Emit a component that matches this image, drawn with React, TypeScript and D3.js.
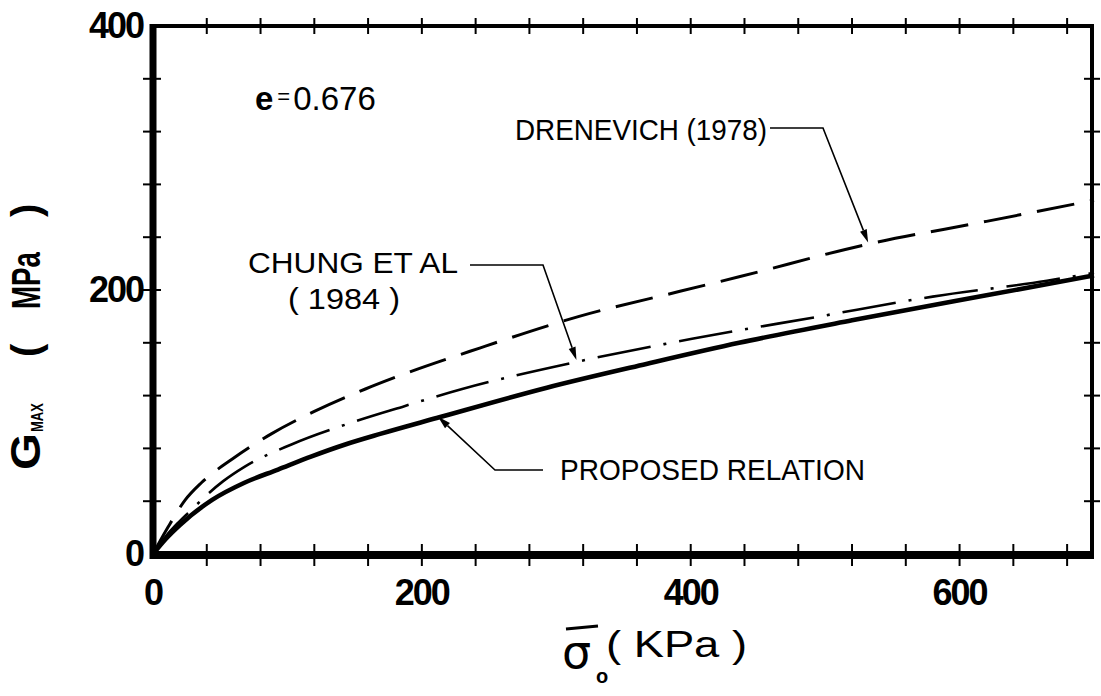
import React from "react";
import * as d3 from "d3";

// Confining pressure (kPa) vs. maximum shear modulus (MPa), e = 0.676
const proposedSigma = [0, 10, 20, 44, 68, 93, 118, 143, 169, 211, 293, 367, 436, 520, 620, 700];
const proposedG = [0, 12, 22, 41, 54, 64, 74, 83, 91, 103, 126, 144, 160, 177, 196, 211];

const chungSigma = [0, 10, 19, 26, 52, 68, 103, 149, 187, 230, 317, 401, 496, 580, 665, 700];
const chungG = [0, 14, 24, 31, 55, 66, 83, 100, 112, 125, 146, 163, 180, 195, 207, 213];

const drnevichSigma = [0, 11, 24, 36, 59, 88, 120, 158, 178, 243, 317, 392, 436, 533, 620, 700];
const drnevichG = [0, 20, 41, 54, 72, 91, 108, 125, 133, 156, 180, 199, 210, 235, 252, 268];

const xTickValues = [40, 80, 120, 160, 200, 240, 280, 320, 360, 400, 440, 480, 520, 560, 600, 640, 680];
const yTickValues = [40, 80, 120, 160, 200, 240, 280, 320, 360];
const xLabelValues = [0, 200, 400, 600];
const yLabelValues = [0, 200, 400];

const W = 1101;
const H = 696;
const left = 153;
const right = 1094;
const top = 26;
const bottom = 554;

const x = d3.scaleLinear().domain([0, 700]).range([left, right]);
const y = d3.scaleLinear().domain([0, 400]).range([bottom, top]);

const zip = (xs: number[], ys: number[]) => xs.map((v, i) => [v, ys[i]] as [number, number]);

const line = d3
  .line<[number, number]>()
  .x((d) => x(d[0]))
  .y((d) => y(d[1]))
  .curve(d3.curveMonotoneX);

const FONT = "'Liberation Sans', Arial, sans-serif";

type Note = {
  lines: { text: string; x: number; y: number; len: number }[];
  leader: [number, number][];
  tip: [number, number];
};

const notes: Note[] = [
  {
    lines: [{ text: "DRENEVICH (1978)", x: 515, y: 140, len: 252 }],
    leader: [
      [770, 128],
      [823, 128],
    ],
    tip: [532, 236],
  },
  {
    lines: [
      { text: "CHUNG  ET AL", x: 248, y: 273, len: 210 },
      { text: "( 1984 )", x: 288, y: 309, len: 112 },
    ],
    leader: [
      [470, 265],
      [543, 265],
    ],
    tip: [315, 147],
  },
  {
    lines: [{ text: "PROPOSED  RELATION", x: 560, y: 480, len: 305 }],
    leader: [
      [543, 470],
      [495, 470],
    ],
    tip: [212, 104],
  },
];

function Arrow({ note }: { note: Note }) {
  const tx = x(note.tip[0]);
  const ty = y(note.tip[1]);
  const last = note.leader[note.leader.length - 1];
  const dx = tx - last[0];
  const dy = ty - last[1];
  const len = Math.hypot(dx, dy);
  const ux = dx / len;
  const uy = dy / len;
  const headLen = 13;
  const half = 3.6;
  const bx = tx - ux * headLen;
  const by = ty - uy * headLen;
  const pts = note.leader.map((p) => p.join(",")).join(" L");
  const head = `M${tx},${ty} L${bx - uy * half},${by + ux * half} L${bx + uy * half},${by - ux * half} Z`;
  return (
    <g>
      <path d={`M${pts} L${bx},${by}`} fill="none" stroke="#000" strokeWidth={1.6} />
      <path d={head} fill="#000" />
      {note.lines.map((l, i) => (
        <text
          key={i}
          x={l.x}
          y={l.y}
          fontFamily={FONT}
          fontSize={30}
          textLength={l.len}
          lengthAdjust="spacingAndGlyphs"
          fill="#000"
        >
          {l.text}
        </text>
      ))}
    </g>
  );
}

export default function App() {
  const tickHalf = 8;
  return (
    <svg
      width={W}
      height={H}
      viewBox={`0 0 ${W} ${H}`}
      style={{ position: "absolute", left: 0, top: 0, background: "#fff" }}
    >
      <rect x={0} y={0} width={W} height={H} fill="#fff" />

      {/* curves */}
      <path d={line(zip(drnevichSigma, drnevichG)) || ""} fill="none" stroke="#000" strokeWidth={3} strokeDasharray="38 16" />
      <path d={line(zip(chungSigma, chungG)) || ""} fill="none" stroke="#000" strokeWidth={2.6} strokeDasharray="54 13 3 13" />
      <path d={line(zip(proposedSigma, proposedG)) || ""} fill="none" stroke="#000" strokeWidth={4.6} />

      {/* frame */}
      <line x1={left} x2={right} y1={top} y2={top} stroke="#000" strokeWidth={4} />
      <line x1={right - 2} x2={right - 2} y1={top - 2} y2={bottom + 4} stroke="#000" strokeWidth={4} />
      <line x1={left} x2={left} y1={top - 2} y2={bottom + 5} stroke="#000" strokeWidth={7} />
      <line x1={left - 3} x2={right} y1={bottom + 1} y2={bottom + 1} stroke="#000" strokeWidth={8} />

      {/* ticks on bottom and top */}
      {xTickValues.map((v) => (
        <g key={`xt${v}`}>
          <line x1={x(v)} x2={x(v)} y1={bottom + 1 - tickHalf - 3} y2={bottom + 1 + tickHalf + 3} stroke="#000" strokeWidth={2} />
          <line x1={x(v)} x2={x(v)} y1={top - tickHalf} y2={top + tickHalf} stroke="#000" strokeWidth={2} />
        </g>
      ))}
      {/* ticks on left and right */}
      {yTickValues.map((v) => (
        <g key={`yt${v}`}>
          <line x1={left - tickHalf - 2} x2={left + tickHalf} y1={y(v)} y2={y(v)} stroke="#000" strokeWidth={2} />
          <line x1={right - 2 - tickHalf} x2={right - 2 + tickHalf} y1={y(v)} y2={y(v)} stroke="#000" strokeWidth={2} />
        </g>
      ))}

      {/* tick labels */}
      {xLabelValues.map((v) => (
        <text
          key={`xl${v}`}
          x={x(v)}
          y={605}
          textAnchor="middle"
          fontFamily={FONT}
          fontWeight="bold"
          fontSize={36}
          letterSpacing={-2}
          fill="#000"
        >
          {v}
        </text>
      ))}
      {yLabelValues.map((v) => (
        <text
          key={`yl${v}`}
          x={143}
          y={y(v) + 12}
          textAnchor="end"
          fontFamily={FONT}
          fontWeight="bold"
          fontSize={36}
          letterSpacing={-2}
          fill="#000"
        >
          {v}
        </text>
      ))}

      {/* x axis title */}
      <g fontFamily={FONT} fill="#000">
        <text x={562} y={668} fontSize={46} fontFamily="'DejaVu Sans', sans-serif">σ</text>
        <line x1={566} x2={598} y1={629} y2={626} stroke="#000" strokeWidth={3} />
        <text x={596} y={683} fontSize={20} fontWeight="bold">o</text>
        <text x={606} y={657} fontSize={37} textLength={141} lengthAdjust="spacingAndGlyphs">( KPa )</text>
      </g>

      {/* y axis title */}
      <g transform="translate(40,0) rotate(-90)" fontFamily={FONT} fontWeight="bold" fill="#000">
        <text x={-470} y={0} fontSize={42} textLength={37} lengthAdjust="spacingAndGlyphs">G</text>
        <text x={-432} y={3} fontSize={17} textLength={29} lengthAdjust="spacingAndGlyphs">MAX</text>
        <text x={-357} y={0} fontSize={40}>(</text>
        <text x={-309} y={0} fontSize={40} textLength={57} lengthAdjust="spacingAndGlyphs">MPa</text>
        <text x={-217} y={0} fontSize={40}>)</text>
      </g>

      {/* void ratio */}
      <text x={255} y={110} fontFamily={FONT} fontSize={33} fill="#000">
        <tspan fontWeight="bold">e</tspan>
        <tspan fontSize={22} dx={4} dy={-6}>=</tspan>
        <tspan dx={3} dy={6}>0.676</tspan>
      </text>

      {notes.map((n, i) => (
        <Arrow key={i} note={n} />
      ))}
    </svg>
  );
}
